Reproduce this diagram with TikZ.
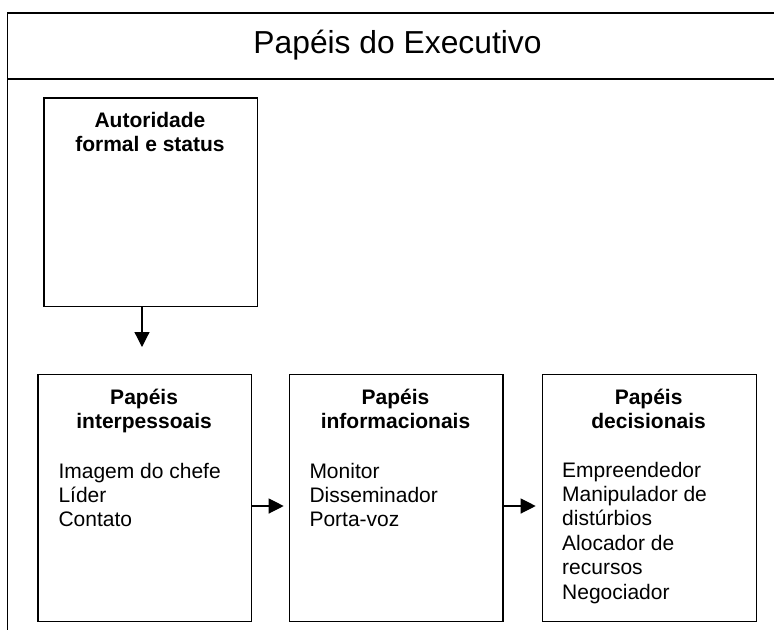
\documentclass[tikz,border=0pt]{standalone}
\usepackage{fontspec}
\setmainfont{Liberation Sans}
\usetikzlibrary{arrows.meta}
\newcommand{\mylinesc}[1]{\begin{tabular}[t]{@{}c@{}}#1\end{tabular}}
\newcommand{\mylinesl}[1]{\begin{tabular}[t]{@{}l@{}}#1\end{tabular}}
\begin{document}
\begin{tikzpicture}[x=1pt,y=-1pt,
  frameline/.style={line width=1.3pt,black},
  boxnode/.style={draw,line width=1.2pt,rectangle,anchor=north west,inner sep=0pt,minimum width=213.6pt},
  headtext/.style={font=\fontsize{21}{24}\selectfont\bfseries,anchor=base,inner sep=0pt},
  listtext/.style={font=\fontsize{21}{24.4}\selectfont,anchor=base west,inner sep=0pt},
  conn/.style={line width=1.2pt,-{Triangle[length=15pt,width=15pt]}}]
\useasboundingbox (0,0) rectangle (774,630);
% outer frame
\coordinate (ftl) at (7.5,13);
\coordinate (ftr) at (774,13);
\coordinate (fbl) at (7.5,630);
\coordinate (fsl) at (7.5,79);
\coordinate (fsr) at (774,79);
\draw[frameline] (ftr) -- (ftl) -- (fbl);
\draw[frameline] (fsl) -- (fsr);
\node[font=\fontsize{31.8}{36}\selectfont,anchor=base,inner sep=0pt] (title) at (397.5,53.3) {Papéis do Executivo};
% boxes
\node[boxnode,minimum width=213.4pt,minimum height=208.4pt] (auto) at (43.3,97.3) {};
\node[boxnode,minimum height=247pt] (b1) at (37.3,374) {};
\node[boxnode,minimum height=247pt] (b2) at (288.7,374) {};
\node[boxnode,minimum height=247pt,minimum width=213.8pt] (b3) at (541.7,374) {};
% texts
\node[headtext] (autot) at (150,127.7) {\mylinesc{Autoridade\\formal e status}};
\node[headtext] (h1) at (144.1,404) {\mylinesc{Papéis\\interpessoais}};
\node[headtext] (h2) at (395.5,404) {\mylinesc{Papéis\\informacionais}};
\node[headtext] (h3) at (648.6,404) {\mylinesc{Papéis\\decisionais}};
\node[listtext] (l1) at (58.3,478) {\mylinesl{Imagem do chefe\\Líder\\Contato}};
\node[listtext] (l2) at (309.3,478) {\mylinesl{Monitor\\Disseminador\\Porta-voz}};
\node[listtext] (l3) at (562,477) {\mylinesl{Empreendedor\\Manipulador de\\distúrbios\\Alocador de\\recursos\\Negociador}};
% connectors
\coordinate (va) at (142,0);
\coordinate (ha) at (0,506);
\draw[conn,shorten >=27pt] (auto.south -| va) -- (b1.north -| va);
\draw[conn,shorten >=5pt] (b1.east |- ha) -- (b2.west |- ha);
\draw[conn,shorten >=6pt] (b2.east |- ha) -- (b3.west |- ha);
\end{tikzpicture}
\end{document}
